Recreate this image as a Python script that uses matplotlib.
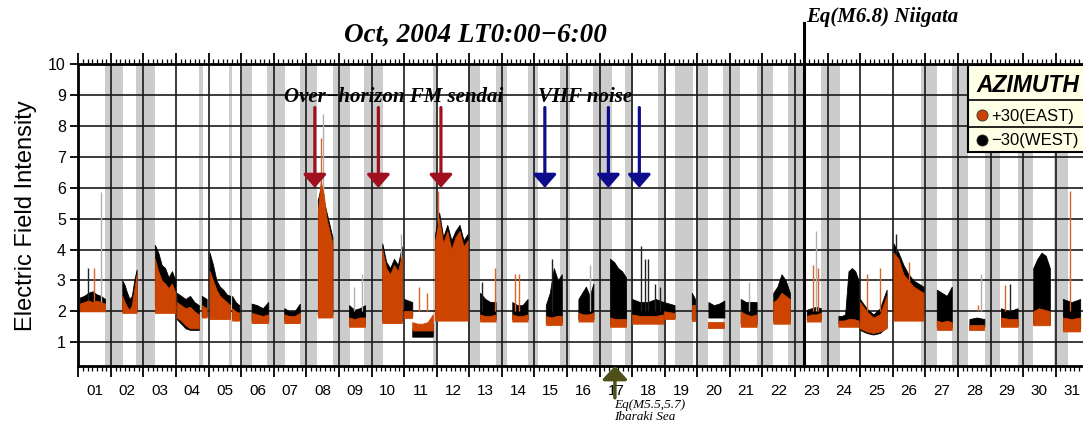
import numpy as np
import matplotlib.pyplot as plt
from matplotlib.patches import Rectangle
from matplotlib.lines import Line2D

# gray shaded intervals (day of month, 0 = Oct 1 00:00)
band_start = [0.82, 1.77, 3.70, 4.62, 5.02, 5.78, 6.80, 7.83, 8.78, 10.90, 11.96, 12.82,
              13.81, 14.80, 15.80, 16.78, 17.80, 18.31, 18.95, 19.80, 20.82, 21.79, 22.80,
              25.88, 26.81, 27.83, 28.84, 29.95]
band_end = [1.36, 2.35, 3.82, 4.73, 5.32, 6.34, 7.34, 8.34, 9.36, 11.00, 12.33, 13.15,
            14.12, 15.10, 16.38, 17.03, 18.05, 18.88, 19.34, 20.31, 21.33, 22.25, 23.38,
            26.35, 27.30, 28.30, 29.31, 30.38]

# observation segments: start/end day and intensity envelopes
seg_start = [0.05, 1.35, 2.35, 3.02, 3.79, 4.03, 4.72, 5.32, 6.32, 7.35, 8.31, 9.33,
             10.00, 10.25, 10.95, 12.33, 13.32, 14.35, 15.35, 16.32, 17.00, 17.98, 18.83,
             19.34, 20.33, 21.33, 22.36, 23.33, 23.99, 25.02, 26.35, 27.35, 28.32, 29.31, 30.22]
seg_end = [0.82, 1.79, 2.98, 3.70, 3.94, 4.66, 4.94, 5.83, 6.80, 7.80, 8.80, 9.93,
           10.25, 10.88, 11.95, 12.81, 13.79, 14.84, 15.81, 16.81, 17.96, 18.30, 18.93,
           19.83, 20.82, 21.84, 22.79, 23.95, 24.81, 25.94, 26.81, 27.81, 28.83, 29.82, 30.75]
east_low = [2.0, 1.95, 1.95, [1.8, 1.7, 1.55, 1.45, 1.45, 1.45], 1.8, 1.75, 1.7, 1.62, 1.62, 1.8, 1.5, 1.62,
            1.8, 1.38, 1.7, 1.67, 1.67, 1.56, 1.67, 1.5, 1.6, 1.75, 1.7,
            1.45, 1.5, 1.6, 1.67, 1.5, [1.45, 1.35, 1.3, 1.35, 1.45], 1.7, 1.4, 1.4, 1.5, 1.55, 1.35]
east_top = [[2.25, 2.3, 2.35, 2.3, 2.35, 2.3, 2.25],
            [2.5, 2.3, 2.15, 2.05, 2.2, 2.7, 3.2],
            [3.7, 3.3, 3.0, 2.9, 2.75, 2.9, 2.6],
            [2.3, 2.2, 2.1, 2.15, 2.0, 1.9],
            [2.2, 2.1],
            [3.3, 3.0, 2.7, 2.5, 2.4, 2.3, 2.2],
            [2.1, 2.0, 1.95],
            [1.95, 1.9, 1.85, 1.9],
            [1.9, 1.85, 1.85, 1.95],
            [5.2, 6.2, 5.8, 5.0, 4.6, 4.2],
            [1.8, 1.75, 1.8, 1.8],
            [4.0, 3.4, 3.2, 3.5, 3.3, 3.8],
            [2.0, 2.0],
            [1.65, 1.6, 1.6, 1.65, 1.9],
            [4.3, 5.0, 4.2, 4.6, 4.0, 4.4, 4.6, 4.1, 4.3],
            [1.9, 1.85, 1.85, 1.9],
            [1.9, 1.85, 1.85, 1.9],
            [1.85, 1.8, 1.85, 1.85],
            [1.95, 1.9, 1.9, 1.95],
            [1.8, 1.75, 1.75, 1.75],
            [1.9, 1.85, 1.85, 1.85, 1.9],
            [2.0, 1.95],
            [2.2, 2.2],
            [1.65, 1.65],
            [2.0, 1.9, 1.85, 1.9],
            [2.3, 2.4, 2.6, 2.5, 2.4],
            [1.85, 1.9, 1.9, 1.95],
            [1.7, 1.7, 1.75, 1.75, 1.7],
            [2.3, 2.0, 1.8, 1.9, 2.5],
            [3.9, 3.7, 3.2, 3.0, 2.8, 2.7, 2.6],
            [1.7, 1.65, 1.7, 1.65],
            [1.55, 1.55],
            [1.8, 1.75, 1.75],
            [2.0, 2.1, 2.05, 2.0],
            [1.8, 1.75, 1.8]]
west_low = [2.1, 2.0, 2.2, [1.75, 1.6, 1.45, 1.4, 1.4, 1.4], 1.85, 1.85, 1.75, 1.7, 1.7, 1.9, 1.55, 1.7,
            1.85, 1.18, 1.8, 1.75, 1.75, 1.65, 1.75, 1.6, 1.7, 1.8, 1.75,
            1.8, 1.6, 1.7, 1.75, 1.6, [1.4, 1.3, 1.25, 1.3, 1.5], 1.8, 1.5, 1.5, 1.55, 1.6, 1.45]
west_top = [[2.45, 2.5, 2.6, 2.65, 2.55, 2.5, 2.4],
            [3.0, 2.85, 2.6, 2.4, 2.5, 3.0, 3.35],
            [4.15, 3.9, 3.5, 3.4, 3.1, 3.3, 3.0],
            [2.6, 2.5, 2.4, 2.5, 2.3, 2.2],
            [2.5, 2.4],
            [3.9, 3.5, 3.0, 2.8, 2.7, 2.55, 2.5],
            [2.5, 2.3, 2.2],
            [2.25, 2.2, 2.1, 2.3],
            [2.1, 2.0, 2.0, 2.25],
            [5.6, 6.0, 5.6, 5.2, 4.8, 4.4],
            [2.2, 2.05, 2.1, 2.2],
            [4.2, 3.6, 3.4, 3.7, 3.5, 4.1],
            [2.4, 2.3],
            [1.45, 1.4, 1.4, 1.45, 1.6],
            [4.5, 5.2, 4.4, 4.8, 4.3, 4.6, 4.8, 4.3, 4.5],
            [2.6, 2.4, 2.3, 2.3],
            [2.3, 2.2, 2.2, 2.4],
            [2.2, 2.6, 3.4, 3.0, 3.2],
            [2.4, 2.6, 2.8, 2.5, 2.9],
            [3.7, 3.6, 3.4, 3.3, 3.1],
            [2.4, 2.3, 2.3, 2.4, 2.3],
            [2.3, 2.2],
            [2.6, 2.4],
            [2.3, 2.2, 2.25, 2.35],
            [2.4, 2.3, 2.3, 2.3],
            [2.6, 2.8, 3.2, 3.0, 2.6],
            [2.05, 2.1, 2.15, 2.1],
            [1.85, 1.85, 1.9, 3.3, 3.4, 3.3, 3.0],
            [2.4, 2.1, 1.9, 2.1, 2.7],
            [4.2, 3.9, 3.5, 3.2, 3.0, 2.9, 2.8],
            [2.7, 2.6, 2.5, 2.8],
            [1.75, 1.8, 1.75],
            [2.1, 2.0, 2.1],
            [3.4, 3.7, 3.9, 3.8, 3.4],
            [2.4, 2.3, 2.4]]

# isolated spikes: day, peak value, trace ('e' east, 'w' west, 'g' faint)
spike_day = [0.30, 0.48, 0.70, 7.45, 7.50, 8.45, 8.70, 9.90, 10.45, 10.70, 11.03, 12.40, 12.78,
             13.40, 13.52, 14.55, 15.70, 17.27, 17.40, 17.50, 17.70, 17.85, 20.60, 22.55, 22.63,
             22.70, 24.20, 24.60, 25.10, 25.50, 27.60, 27.70, 28.45, 28.60, 30.45]
spike_val = [3.4, 3.4, 5.88, 7.6, 8.4, 2.8, 3.2, 4.5, 2.8, 2.6, 5.9, 2.95, 3.4,
             3.2, 3.2, 3.7, 3.5, 4.1, 3.7, 3.7, 2.9, 2.8, 2.95, 3.5, 4.6,
             3.4, 3.2, 3.4, 4.5, 3.6, 2.2, 3.2, 2.85, 2.9, 5.9]
spike_kind = ['w', 'e', 'g', 'e', 'g', 'g', 'g', 'g', 'e', 'e', 'e', 'w', 'e',
              'e', 'e', 'w', 'g', 'w', 'w', 'w', 'w', 'w', 'g', 'e', 'g',
              'e', 'e', 'e', 'w', 'e', 'e', 'g', 'e', 'w', 'e']

red_arrow_days = [7.26, 9.21, 11.13]
blue_arrow_days = [14.32, 16.27, 17.22]
eq_niigata_day = 22.27
eq_ibaraki_day = 16.47
day_labels = ['%02d' % d for d in range(1, 32)]

EAST = '#cc4400'
WEST = '#000000'
spike_colors = {'e': '#d9652a', 'w': '#222222', 'g': '#b0b0b0'}
serif = ['Liberation Serif', 'DejaVu Serif']
sans = ['Liberation Sans', 'DejaVu Sans']
plt.rcParams['font.family'] = sans

W, H = 1083, 424
fig = plt.figure(figsize=(W / 100, H / 100), dpi=100)
ax = fig.add_axes([78.3 / W, 58 / H, 1010 / W, 301.7 / H])


def px(x, y):
    return x / W, 1 - y / H


# shaded intervals
for s, e in zip(band_start, band_end):
    ax.axvspan(s, e, color='#cccccc', lw=0, zorder=0)

# envelopes: west drawn first, east on top
for s, e, lo, top in zip(seg_start, seg_end, west_low, west_top):
    x = np.linspace(s, e, len(top))
    ax.fill_between(x, np.broadcast_to(lo, len(top)), top, color=WEST, lw=0.6, zorder=2)
for s, e, lo, top in zip(seg_start, seg_end, east_low, east_top):
    x = np.linspace(s, e, len(top))
    ax.fill_between(x, np.broadcast_to(lo, len(top)), top, color=EAST, lw=0.6, zorder=3)
for d, v, k in zip(spike_day, spike_val, spike_kind):
    ax.vlines(d, 2.0, v, color=spike_colors[k], lw=1.0, zorder=2.5)

ax.set_xlim(0, 31)
ax.set_ylim(0.23, 10)
ax.set_xticks(np.arange(0, 32))
ax.set_xticks(np.arange(0, 31, 1 / 7), minor=True)
ax.set_xticklabels([])
ax.set_yticks(np.arange(1, 11))
ax.set_axisbelow(True)
ax.grid(True, which='major', color='#1a1a1a', lw=1.2)
ax.tick_params(axis='x', which='major', direction='out', length=8, width=1.3,
               top=True, labelbottom=False)
ax.tick_params(axis='x', which='minor', direction='out', length=3.5, width=0.9, top=True)
ax.tick_params(axis='y', direction='out', length=6, width=1.3, labelsize=11.5, pad=3)
for side in ['left', 'top', 'bottom']:
    ax.spines[side].set_linewidth(2)
ax.spines['right'].set_visible(False)

# day labels centered inside each day
sec = ax.secondary_xaxis('bottom')
sec.set_xticks(np.arange(31) + 0.5, day_labels)
sec.tick_params(length=0, pad=13, labelsize=11)
sec.spines['bottom'].set_visible(False)

ax.set_ylabel('Electric Field Intensity', fontsize=17, labelpad=8)

# title and annotations
fig.text(*px(475, 35), 'Oct, 2004 LT0:00\u22126:00', family=serif, style='italic',
         weight='bold', fontsize=19.5, ha='center', va='center')
fig.text(*px(394, 97), 'Over\u2212horizon FM sendai', family=serif, style='italic',
         weight='bold', fontsize=15, ha='center', va='center', zorder=7)
fig.text(*px(585, 97), 'VHF noise', family=serif, style='italic',
         weight='bold', fontsize=15, ha='center', va='center', zorder=7)

for d in red_arrow_days:
    ax.annotate('', xy=(d, 6.0), xytext=(d, 8.6),
                arrowprops=dict(arrowstyle='-|>,head_length=0.8,head_width=0.7',
                                lw=2.3, color='#a0101e', shrinkA=0, shrinkB=0), zorder=5)
for d in blue_arrow_days:
    ax.annotate('', xy=(d, 6.0), xytext=(d, 8.6),
                arrowprops=dict(arrowstyle='-|>,head_length=0.8,head_width=0.7',
                                lw=2.3, color='#0c0c8c', shrinkA=0, shrinkB=0), zorder=5)

ax.plot([eq_niigata_day, eq_niigata_day], [0.23, 11.34], color='black', lw=2.2,
        clip_on=False, zorder=6)
ax.text(eq_niigata_day + 0.06, 11.52, 'Eq(M6.8) Niigata', family=serif, style='italic',
        weight='bold', fontsize=15, va='center', ha='left', clip_on=False)

ax.annotate('', xy=(eq_ibaraki_day, 0.23), xytext=(eq_ibaraki_day, -0.8),
            arrowprops=dict(arrowstyle='-|>,head_length=0.8,head_width=0.75',
                            lw=2.5, color='#4f4f18', shrinkA=0, shrinkB=0),
            annotation_clip=False, zorder=6)
fig.text(*px(614, 411), 'Eq(M5.5,5.7)\nIbaraki Sea', family=serif, style='italic',
         fontsize=9.5, ha='left', va='center', linespacing=1.0)

# legend box
x0, y0 = px(968.3, 151.7)
fig.add_artist(Rectangle((x0, y0), 140 / W, 86.7 / H, transform=fig.transFigure,
                         facecolor='#ffffe6', edgecolor='black', lw=1.5, zorder=10))
for yy in [100, 127.3]:
    fig.add_artist(Line2D([968.3 / W, 1.0], [1 - yy / H] * 2, transform=fig.transFigure,
                          color='black', lw=1.2, zorder=11))
fig.text(*px(976, 85), 'AZIMUTH', style='italic', weight='bold', fontsize=16.5,
         va='center', ha='left', zorder=12)
for yy, col, lab in [(115, EAST, '+30(EAST)'), (140, WEST, '\u221230(WEST)')]:
    fig.add_artist(Line2D([982.3 / W], [1 - yy / H], transform=fig.transFigure, marker='o',
                          ms=8, mfc=col, mec='#333333', mew=0.6, ls='none', zorder=12))
    fig.text(*px(991, yy + 1), lab, fontsize=12, va='center', ha='left', zorder=12)

fig.savefig('out.png', dpi=100)
